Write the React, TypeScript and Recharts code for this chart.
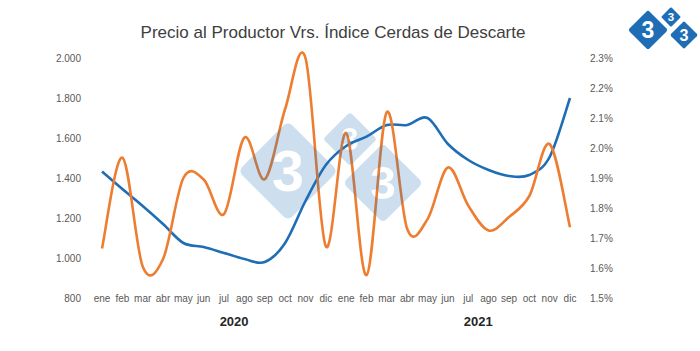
import { LineChart, Line, XAxis, YAxis } from "recharts"

const months = ["ene", "feb", "mar", "abr", "may", "jun", "jul", "ago", "sep", "oct", "nov", "dic"]
const years = ["2020", "2021"]

// Precio al productor (eje izquierdo)
const precioProductor = [
  1432, 1345, 1260, 1170, 1075, 1055, 1025, 995, 980, 1075, 1285, 1465,
  1560, 1607, 1665, 1665, 1700, 1570, 1490, 1440, 1410, 1415, 1505, 1800,
]

// Índice cerdas de descarte, % (eje derecho)
const indiceCerdas = [
  1.665, 1.968, 1.605, 1.63, 1.9, 1.895, 1.78, 2.035, 1.896, 2.13, 2.3, 1.672,
  2.05, 1.576, 2.12, 1.73, 1.763, 1.935, 1.808, 1.725, 1.77, 1.84, 2.013, 1.736,
]

const leftTicks = [800, 1000, 1200, 1400, 1600, 1800, 2000]
const rightTicks = [1.5, 1.6, 1.7, 1.8, 1.9, 2.0, 2.1, 2.2, 2.3]

const periodos = years.flatMap((y) => months.map((m) => `${m} ${y}`))

const data = periodos.map((p, i) => ({
  periodo: p,
  precio: precioProductor[i],
  indice: indiceCerdas[i],
}))

const FONT = "'Liberation Sans', Arial, sans-serif"
const BLUE = "#1f6eb5"
const ORANGE = "#ed7d31"

// smoothing like excel (catmull-rom through every point)
function excelSmooth(context: any) {
  let pts: number[][] = []
  return {
    areaStart() {},
    areaEnd() {},
    lineStart() {
      pts = []
    },
    lineEnd() {
      const n = pts.length
      if (!n) return
      context.moveTo(pts[0][0], pts[0][1])
      for (let i = 0; i < n - 1; i++) {
        const p0 = pts[Math.max(0, i - 1)]
        const p1 = pts[i]
        const p2 = pts[i + 1]
        const p3 = pts[Math.min(n - 1, i + 2)]
        context.bezierCurveTo(
          p1[0] + (p2[0] - p0[0]) / 6,
          p1[1] + (p2[1] - p0[1]) / 6,
          p2[0] - (p3[0] - p1[0]) / 6,
          p2[1] - (p3[1] - p1[1]) / 6,
          p2[0],
          p2[1]
        )
      }
    },
    point(x: number, y: number) {
      pts.push([+x, +y])
    },
  }
}

function fmtMiles(v: number) {
  if (v < 1000) return String(v)
  return `${Math.floor(v / 1000)}.${String(v % 1000).padStart(3, "0")}`
}

function MonthTick(props: any) {
  const { x, y, payload } = props
  const [mes, anio] = String(payload.value).split(" ")
  return (
    <g>
      <text x={x} y={y} dy={3.5} textAnchor="middle" fontSize={10} fill="#595959" fontFamily={FONT}>
        {mes}
      </text>
      {mes === "jul" && (
        <text x={x + 10} y={y + 28} textAnchor="middle" fontSize={13} fontWeight="bold" fill="#262626" fontFamily={FONT}>
          {anio}
        </text>
      )}
    </g>
  )
}

function Logo({ cx, cy, s, fill, textFill }: any) {
  // one diamond with a "3"
  const side = s * Math.SQRT2
  return (
    <g>
      <rect
        x={cx - side / 2}
        y={cy - side / 2}
        width={side}
        height={side}
        rx={s * 0.12}
        fill={fill}
        transform={`rotate(45 ${cx} ${cy})`}
      />
      <text
        x={cx}
        y={cy + s * 0.4}
        textAnchor="middle"
        fontSize={s * 1.15}
        fontWeight="bold"
        fill={textFill}
        fontFamily={FONT}
      >
        3
      </text>
    </g>
  )
}

function Overlay() {
  return (
    <svg width={700} height={351} style={{ position: "absolute", left: 0, top: 0, pointerEvents: "none" }}>
      <defs>
        <mask id="wm">
          <Logo cx={288} cy={171} s={50} fill="white" textFill="black" />
          <Logo cx={350} cy={139} s={27} fill="white" textFill="black" />
          <Logo cx={383} cy={183} s={40} fill="white" textFill="black" />
        </mask>
      </defs>
      <rect x={0} y={0} width={700} height={351} fill={BLUE} opacity={0.22} mask="url(#wm)" />
      <text x={333} y={38} textAnchor="middle" fontSize={17} fill="#404040" fontFamily={FONT}>
        Precio al Productor Vrs. Índice Cerdas de Descarte
      </text>
      <Logo cx={648} cy={30} s={20} fill={BLUE} textFill="white" />
      <Logo cx={671} cy={17} s={10} fill={BLUE} textFill="white" />
      <Logo cx={684} cy={35} s={14} fill={BLUE} textFill="white" />
    </svg>
  )
}

export default function App() {
  return (
    <div style={{ position: "absolute", left: 0, top: 0, width: 700, height: 351, background: "#fff", fontFamily: FONT }}>
      <LineChart width={700} height={351} data={data} margin={{ top: 58, right: 0, bottom: 0, left: 0 }}>
        <XAxis
          dataKey="periodo"
          interval={0}
          axisLine={false}
          tickLine={false}
          tickSize={0}
          tickMargin={0}
          height={53}
          padding={{ left: 10, right: 10 }}
          tick={<MonthTick />}
        />
        <YAxis
          yAxisId="left"
          orientation="left"
          width={92}
          domain={[800, 2000]}
          ticks={leftTicks}
          interval={0}
          axisLine={false}
          tickLine={false}
          tickSize={0}
          tickMargin={11}
          tickFormatter={fmtMiles}
          tick={{ fontSize: 10, fill: "#595959" }}
        />
        <YAxis
          yAxisId="right"
          orientation="right"
          width={120}
          domain={[1.5, 2.3]}
          ticks={rightTicks}
          interval={0}
          axisLine={false}
          tickLine={false}
          tickSize={0}
          tickMargin={10}
          tickFormatter={(v: number) => `${v.toFixed(1)}%`}
          tick={{ fontSize: 10, fill: "#595959", textAnchor: "start" }}
        />
        <Line
          yAxisId="left"
          dataKey="precio"
          type={excelSmooth as any}
          stroke={BLUE}
          strokeWidth={2.6}
          dot={false}
          activeDot={false}
          isAnimationActive={false}
        />
        <Line
          yAxisId="right"
          dataKey="indice"
          type={excelSmooth as any}
          stroke={ORANGE}
          strokeWidth={2.6}
          dot={false}
          activeDot={false}
          isAnimationActive={false}
        />
      </LineChart>
      <Overlay />
    </div>
  )
}
